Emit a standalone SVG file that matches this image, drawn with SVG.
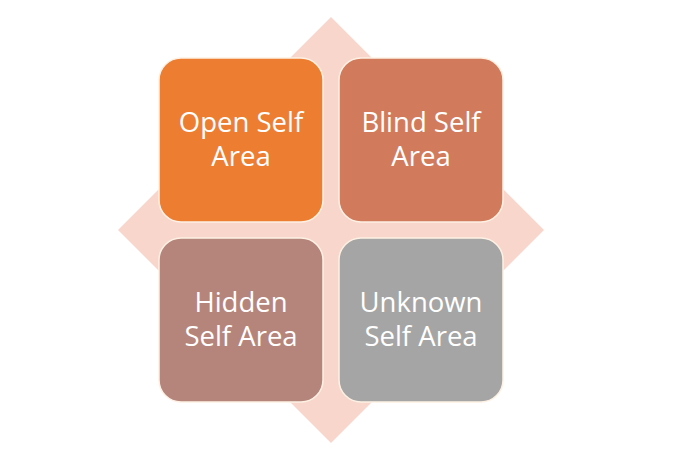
<svg xmlns="http://www.w3.org/2000/svg" width="700" height="465" viewBox="0 0 700 465">
<style>
.box{stroke:#FDF1E4;stroke-width:1.5}
.lbl{font-family:"Open Sans","Liberation Sans",sans-serif;font-size:27.5px;fill:#FFFFFF;text-anchor:middle}
</style>
<rect width="700" height="465" fill="#FFFFFF"/>
<g id="background">
<polygon points="331,17 544,230 331,443 118,230" fill="#F8D6CC"/>
</g>
<g id="connectors"></g>
<g id="open-self">
<rect class="box" x="159" y="58" width="164" height="164" rx="22" fill="#ED7D31"/>
<text class="lbl" x="241" y="132">Open Self</text>
<text class="lbl" x="241" y="166">Area</text>
</g>
<g id="blind-self">
<rect class="box" x="339" y="58" width="164" height="164" rx="22" fill="#D27B5C"/>
<text class="lbl" x="421" y="132">Blind Self</text>
<text class="lbl" x="421" y="166">Area</text>
</g>
<g id="hidden-self">
<rect class="box" x="159" y="238" width="164" height="164" rx="22" fill="#B5857C"/>
<text class="lbl" x="241" y="312">Hidden</text>
<text class="lbl" x="241" y="346">Self Area</text>
</g>
<g id="unknown-self">
<rect class="box" x="339" y="238" width="164" height="164" rx="22" fill="#A5A5A5"/>
<text class="lbl" x="421" y="312">Unknown</text>
<text class="lbl" x="421" y="346">Self Area</text>
</g>
</svg>
